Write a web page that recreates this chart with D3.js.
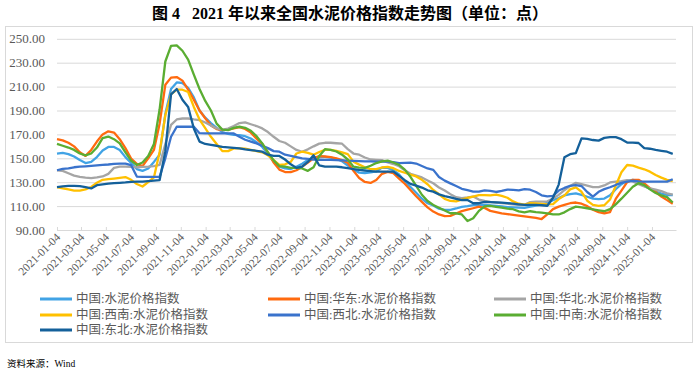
<!DOCTYPE html>
<html lang="zh">
<head>
<meta charset="utf-8">
<title>2021年以来全国水泥价格指数走势图</title>
<script src="https://d3js.org/d3.v7.min.js"></script>
<style>
  body { margin: 0; background: #fff; }
  svg text { font-family: "Liberation Serif", "Noto Sans CJK SC", serif; }
  .grid line { stroke: #d9d9d9; stroke-width: 1; }
  .series { fill: none; stroke-width: 2.3; stroke-linejoin: round; }
</style>
</head>
<body>
<svg id="chart" width="700" height="374"></svg>
<script>
// weekly index, sampled every two weeks from 2021-01-04
var firstDate = "2021-01-04";
var stepDays = 14;

var seriesNames = ["中国:水泥价格指数", "中国:华东:水泥价格指数", "中国:华北:水泥价格指数",
  "中国:西南:水泥价格指数", "中国:西北:水泥价格指数", "中国:中南:水泥价格指数", "中国:东北:水泥价格指数"];
var seriesColors = ["#41a3e5", "#ff6a0f", "#a5a5a5", "#ffc000", "#3a73cc", "#5aad32", "#14609a"];

var national = [154,154.5,153.5,151.5,148.5,146,147,151,156.5,159.5,159.5,157,151,146,141,139.5,141.5,147,153,187,
  208,213.5,213,209,201,190,184,179.5,175.5,172,170.5,169.6,169.4,168.5,166.5,163.5,159.5,153.5,147,143,
  141.5,141,143,145.5,148.5,150.5,151.5,151.2,150.5,149.5,147.5,144,140.5,138,137.7,138.2,139,142.2,142,140,
  136.5,130.8,126,121.2,116.2,112.4,110.5,107.8,106.8,106.8,108,109.4,110,110.8,111,111,110.6,110.2,109.8,109.2,
  108.9,108.7,108.5,109.5,110.5,111.5,112.6,115,116.8,119,120,120.6,119.4,117.8,116.3,115.8,116.3,119,124.1,128.3,
  131.3,131.9,130.1,126.9,124.5,122.2,120.5,119.3,119.3];

var east = [166,165,163,160,155,152,157,164,170,172.6,171.5,166,158.5,149.7,145.3,143.5,150,157,179,211.5,
  217.5,218,215,207.5,199,190,183.5,177.5,174.5,173.6,174,175,176,174.5,171.5,166.5,162,155,146.5,140.5,
  138.5,138.5,140,143,146.5,150,151.8,151.5,151,150,148.5,146.3,139.5,133.5,130.2,129.4,131.8,137,138.7,137.5,
  133,128.7,123.5,118.2,113.5,109,105.4,103,101.6,101.8,103.8,105.8,107,108.2,109.5,108.5,106,105,104,103.3,
  102.6,102,101.4,100.8,100.2,99.2,103,107.5,109.6,111,112.4,113,112,110,107,105,104,105,116,123,
  130,132,132,129,125,122,118,115,112];

var north = [140,139.5,137.5,135.5,134.5,133.8,133.4,134,134.8,137,142,143,143,142.8,142.5,142.8,143,143.5,144.5,162,
  178,182.5,183.3,183.3,182.5,182,180,177.5,175,174,174.8,177,179.5,180,178.5,177,175,172,168,164.5,
  163,160,157,155.5,157.5,160,162.3,163,163,162.6,162.2,157.7,154,153,150.7,149,148.7,148.5,146.5,145.2,
  143.3,140,137.1,135.5,134,131.5,129.1,125.6,123,120,117.4,116.6,117.2,118,115.5,114.3,113.5,113,112.5,112,
  111.5,111,111,113.3,113.7,113.7,114,116.4,119.4,123.3,126.8,129.5,128.4,127.2,125.8,125.8,127.3,129.8,130.5,130.8,
  131.8,130.6,128.3,126.5,124.9,123.7,122.5,120.7,119.7];

var southwest = [125.8,124.8,124,123,123,124,126,129.5,132,132.5,133,133.6,134.3,132,128.5,126.4,130,134,155.3,186,
  203.5,207.4,207.4,205.5,193,182.4,175.3,168,162,156,156,158.3,158.3,158,157,156,155,152.5,148.5,144.4,
  145,147,154,155.5,154.5,153,155.3,157,157,156.2,155,153.5,147.2,144.7,142.5,141,141,142.3,142.8,141.7,
  139.4,137.9,136.4,134.8,132,128.3,123.5,119.9,116,114.3,114,115.5,116.8,118,119.2,119.2,119,119.6,118.5,117,
  113.9,112,111.3,112.4,112.2,111.9,111.4,111.6,115.9,118.8,124,125.7,122,114.5,111,110.2,110.7,115.5,127,138.3,
  144.4,143.8,142.2,140.8,138.8,136,133.8,131.9,131];

var northwest = [140,141.2,141.6,142.5,143,143.3,143.6,144,144.5,144.8,145.3,145.6,145.5,144.2,134.7,134.5,134.5,134.5,134.5,150,
  168,176.4,176.4,176.4,176.4,171,170.8,170.8,170.8,170.8,170.8,170.8,168,165.5,164,162.5,160.5,158.5,156,155.5,
  153,152,151,150,149.5,149,148.8,148.7,148.7,148.5,148.3,148.1,147.9,147.7,147.5,147.4,147.3,147.3,147.3,146.8,
  146,146.2,146.4,145.6,143.6,141.5,140.3,134.3,131.3,129,126.8,124.5,123.3,122.1,122.1,123.2,122.8,121.8,122.7,123.8,
  123.6,123.2,124.2,123.7,121.8,119,118.2,118.6,123,125.2,127,127.5,126.8,121.8,118,122,124.2,125.8,127.7,129.4,
  130.5,131.2,130.7,130.5,130.5,130.5,130.5,130.5,132.5];

var central = [162,160.5,159,157,154,152.5,154,159,166.8,168.2,166,162.5,155,148,144.4,146.5,152,162,191,231,
  244,244.5,240,232.5,220,208,198,190,179,174,173.6,175.5,176.4,175.5,173,168.5,162.5,155,148.3,143.5,
  143,142,142,141.5,139.5,142.5,152,157.6,157,155.7,153,149,143,142.2,142,143.8,146,147.5,148,146.5,
  144.5,140.5,134.5,127,119.5,114.3,111,108.6,106.3,104,104,103,97.5,99.8,106,109.8,110.2,109.4,108.7,107.8,
  107.4,105.6,104.8,105.7,105,104.5,104,103,103,104.8,107.5,109.6,108.9,108.2,107.3,106.5,105.7,107.5,111.5,116.2,
  121.2,126.2,129.2,127.5,124,121,119,117.5,113];

var northeast = [125.8,126.5,127,127,126.8,125.8,124.8,127.5,128.2,128.8,129.2,129.5,129.8,130.3,130.5,130.5,130.9,131.3,131.8,156,
  203.5,208,199,193,175,164,162,161.2,160.5,159.5,159.2,158.7,158.3,157.5,156.9,156.3,155.5,153,152,152,
  149,145,142,143,147,152.5,144,143,143,143,142.5,141.7,141,140.3,139.8,139.3,138.9,138.9,138.9,138.9,
  135.3,131.7,128.6,127.1,125.5,123.2,122.1,119.8,118.3,117.3,116,115.1,115.1,112.4,112.4,113.5,113.4,113.2,112.9,112.5,
  112,111.5,111,111,111,110.7,110.3,117,128,150.8,153.4,154.3,166.7,166.3,165.3,164.8,167.1,167.7,167.7,166,
  163.2,163.2,162.8,158.5,158,157,156.3,155.5,153.7];

var seriesValues = [national, east, north, southwest, northwest, central, northeast];

var yTicks = [90, 110, 130, 150, 170, 190, 210, 230, 250];
var xTickLabels = ["2021-01-04","2021-03-04","2021-05-04","2021-07-04","2021-09-04","2021-11-04",
  "2022-01-04","2022-03-04","2022-05-04","2022-07-04","2022-09-04","2022-11-04",
  "2023-01-04","2023-03-04","2023-05-04","2023-07-04","2023-09-04","2023-11-04",
  "2024-01-04","2024-03-04","2024-05-04","2024-07-04","2024-09-04","2024-11-04","2025-01-04"];

var parse = d3.timeParse("%Y-%m-%d");
var start = parse(firstDate);
var dates = national.map(function(d, i) { return d3.timeDay.offset(start, i * stepDays); });

var svg = d3.select("#chart");

// outer frame
svg.append("rect")
  .attr("x", 5.5).attr("y", 26.5).attr("width", 687).attr("height", 316)
  .attr("fill", "none").attr("stroke", "#d9d9d9");

svg.append("text")
  .attr("x", 350).attr("y", 19)
  .attr("text-anchor", "middle")
  .attr("font-size", 16).attr("font-weight", "bold")
  .attr("fill", "#000")
  .style("white-space", "pre")
  .text("图 4   2021 年以来全国水泥价格指数走势图（单位：点）");

var plotL = 57, plotR = 676, plotT = 38.8, plotB = 230;

var x = d3.scaleTime().domain([start, parse("2025-03-04")]).range([plotL, plotR]);
var y = d3.scaleLinear().domain([90, 250]).range([plotB, plotT]);

var yAxis = svg.append("g")
  .attr("class", "grid")
  .attr("transform", "translate(" + plotL + ",0)")
  .call(d3.axisLeft(y).tickValues(yTicks).tickFormat(d3.format(".2f"))
    .tickSize(-(plotR - plotL)).tickPadding(12));
yAxis.select(".domain").remove();
yAxis.selectAll("text")
  .attr("fill", "#595959").attr("font-size", 13)
  .style("font-family", "'Liberation Serif', serif");

var tickDates = xTickLabels.map(parse);
var xAxis = svg.append("g")
  .attr("class", "grid")
  .attr("transform", "translate(0," + plotB + ")")
  .call(d3.axisBottom(x).tickValues(tickDates).tickSize(-3).tickSizeOuter(0).tickFormat(""));
xAxis.select(".domain").attr("stroke", "#d9d9d9");

svg.append("g").selectAll("text")
  .data(xTickLabels)
  .join("text")
  .attr("transform", function(d) { return "translate(" + (x(parse(d)) + 4) + "," + (plotB + 8) + ") rotate(-45)"; })
  .attr("text-anchor", "end")
  .attr("font-size", 11.5)
  .attr("fill", "#595959")
  .text(function(d) { return d; });

var line = d3.line()
  .x(function(d, i) { return x(dates[i]); })
  .y(function(d) { return y(d); });

svg.append("g").selectAll("path")
  .data(seriesValues)
  .join("path")
  .attr("class", "series")
  .attr("stroke", function(d, i) { return seriesColors[i]; })
  .attr("d", line);

// legend, three columns
var legendX = [40, 268, 494];
var legendY = [299, 315, 330];
var legend = svg.append("g").selectAll("g")
  .data(seriesNames)
  .join("g")
  .attr("transform", function(d, i) { return "translate(" + legendX[i % 3] + "," + legendY[Math.floor(i / 3)] + ")"; });
legend.append("line")
  .attr("x1", 0).attr("x2", 32).attr("y1", 0).attr("y2", 0)
  .attr("stroke", function(d, i) { return seriesColors[i]; })
  .attr("stroke-width", 3);
legend.append("text")
  .attr("x", 36).attr("dy", "0.35em")
  .attr("font-size", 12.5).attr("fill", "#595959")
  .text(function(d) { return d; });

svg.append("text")
  .attr("x", 7).attr("y", 367)
  .attr("font-size", 9.5).attr("fill", "#000")
  .text("资料来源：Wind");
</script>
</body>
</html>
